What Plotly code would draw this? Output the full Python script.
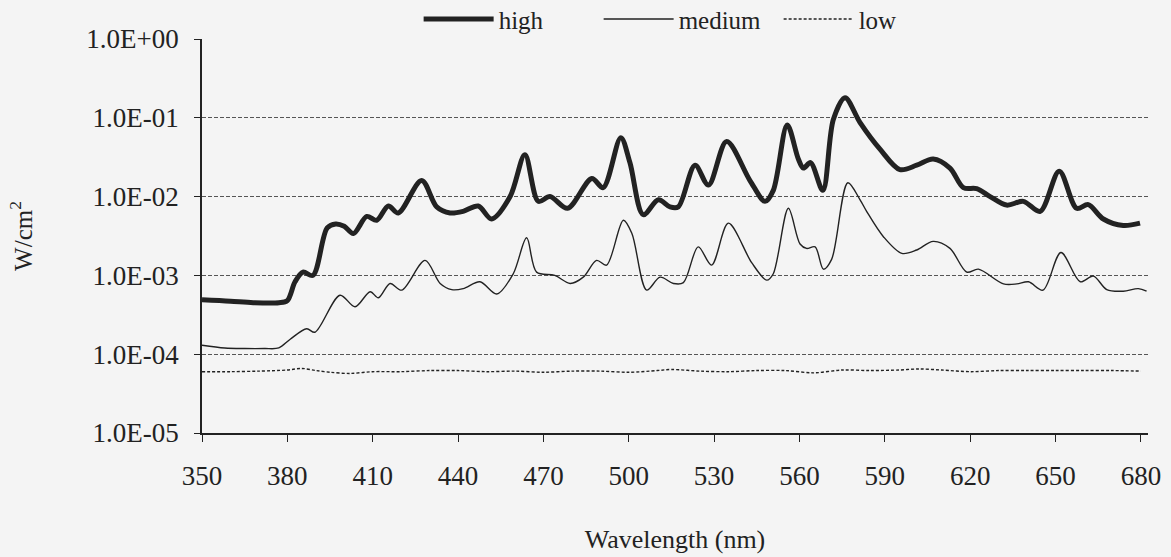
import plotly.graph_objects as go

# ---------------- data ----------------
high_wl = [350, 360, 368, 377, 380, 382.7, 385.5, 389, 394, 397, 400, 403.2, 407.9, 411.4,
           415.5, 419, 427.2, 432.5, 437.2, 441.8, 447.1, 451.8, 458.3, 463.5, 468.2, 472.3,
           478.5, 487, 491, 497.2, 500.4, 505.1, 510.4, 514.5, 517.4, 523.3, 528, 534.4,
           542.6, 547.9, 550.8, 555.7, 559.6, 561.4, 563.9, 568.2, 571.9, 576, 581.3, 588.3,
           595.3, 601.2, 607, 612.9, 617.6, 622.3, 627, 632.8, 638.7, 644.6, 651.3, 657.4,
           661.5, 666.8, 673.8, 679.7]
high_val = [4.9e-4, 4.7e-4, 4.5e-4, 4.5e-4, 4.8e-4, 8.3e-4, 1.1e-3, 1.0e-3, 4.0e-3, 4.5e-3,
            4.2e-3, 3.4e-3, 5.6e-3, 5.0e-3, 7.6e-3, 6.2e-3, 1.6e-2, 7.4e-3, 6.2e-3, 6.5e-3,
            7.6e-3, 5.2e-3, 1.0e-2, 3.4e-2, 8.7e-3, 1.0e-2, 7.1e-3, 1.7e-2, 1.3e-2, 5.6e-2,
            2.7e-2, 5.9e-3, 9.1e-3, 7.4e-3, 7.4e-3, 2.5e-2, 1.4e-2, 5.0e-2, 1.6e-2, 8.7e-3,
            1.2e-2, 8.1e-2, 3.0e-2, 2.3e-2, 2.7e-2, 1.2e-2, 9.5e-2, 1.8e-1, 8.7e-2, 4.0e-2,
            2.2e-2, 2.5e-2, 3.0e-2, 2.3e-2, 1.3e-2, 1.26e-2, 1.0e-2, 7.8e-3, 8.7e-3, 6.5e-3,
            2.1e-2, 7.1e-3, 7.9e-3, 5.2e-3, 4.3e-3, 4.6e-3]

medium_wl = [350, 358, 365, 372, 377, 381, 386.8, 389.7, 398.5, 403.8, 409.1, 412, 416.1,
             420.2, 428.4, 433.7, 437.8, 441.8, 447.7, 453.6, 459.4, 464.1, 467.6, 474,
             479.4, 484, 488.7, 492.2, 498.1, 501.1, 506.3, 511, 515.7, 519.2, 524.4, 529.1,
             535, 543.2, 548.5, 550.8, 556.1, 560.2, 562.5, 565.5, 568.4, 571.3, 577,
             581.3, 583.6, 589.5, 596, 601.2, 607, 612.9, 618.8, 622.9, 631.7, 636.4, 640.5,
             645.6, 651.9, 658.7, 663.3, 668, 673.8, 679.1, 682]
medium_val = [1.3e-4, 1.2e-4, 1.18e-4, 1.18e-4, 1.2e-4, 1.55e-4, 2.1e-4, 1.9e-4, 5.6e-4,
              4.0e-4, 6.2e-4, 5.2e-4, 7.9e-4, 6.5e-4, 1.55e-3, 7.9e-4, 6.6e-4, 6.8e-4,
              8.3e-4, 5.8e-4, 1.05e-3, 3.0e-3, 1.1e-3, 1.0e-3, 7.9e-4, 9.5e-4, 1.55e-3,
              1.35e-3, 5.0e-3, 3.4e-3, 6.5e-4, 9.5e-4, 7.9e-4, 8.1e-4, 2.3e-3, 1.35e-3,
              4.6e-3, 1.45e-3, 8.7e-4, 1.05e-3, 7.1e-3, 2.5e-3, 2.2e-3, 2.3e-3, 1.2e-3,
              1.6e-3, 1.5e-2, 9.1e-3, 6.5e-3, 3.1e-3, 1.9e-3, 2.1e-3, 2.7e-3, 2.2e-3,
              1.1e-3, 1.2e-3, 7.8e-4, 7.8e-4, 8.3e-4, 6.5e-4, 1.95e-3, 8.3e-4, 9.8e-4,
              6.6e-4, 6.3e-4, 6.8e-4, 6.3e-4]

low_wl = [350, 360, 370, 380, 385, 390, 395, 402, 410, 420, 430, 440, 450, 460, 470, 480,
          490, 500, 510, 515, 525, 535, 545, 555, 565, 575, 585, 595, 602, 610, 620, 630,
          640, 650, 660, 670, 680]
low_val = [6.0e-5, 6.0e-5, 6.1e-5, 6.3e-5, 6.6e-5, 6.2e-5, 5.9e-5, 5.7e-5, 6.0e-5, 6.0e-5,
           6.2e-5, 6.2e-5, 6.0e-5, 6.1e-5, 5.9e-5, 6.1e-5, 6.1e-5, 5.9e-5, 6.2e-5, 6.4e-5,
           6.1e-5, 6.0e-5, 6.2e-5, 6.2e-5, 5.8e-5, 6.3e-5, 6.2e-5, 6.3e-5, 6.5e-5, 6.3e-5,
           6.0e-5, 6.2e-5, 6.2e-5, 6.2e-5, 6.2e-5, 6.2e-5, 6.1e-5]

x_ticks = [350, 380, 410, 440, 470, 500, 530, 560, 590, 620, 650, 680]
y_ticks = [1e0, 1e-1, 1e-2, 1e-3, 1e-4, 1e-5]
y_ticktext = ["1.0E+00", "1.0E-01", "1.0E-02", "1.0E-03", "1.0E-04", "1.0E-05"]

# ---------------- figure ----------------
FONT = "Liberation Serif, Times New Roman, serif"
INK = "#222222"
BG = "#f4f4f4"

fig = go.Figure()
fig.add_trace(go.Scatter(x=high_wl, y=high_val, mode="lines", name="high",
                         line=dict(color=INK, width=5, shape="spline", smoothing=0.9)))
fig.add_trace(go.Scatter(x=medium_wl, y=medium_val, mode="lines", name="medium",
                         line=dict(color=INK, width=1.4, shape="spline", smoothing=0.9)))
fig.add_trace(go.Scatter(x=low_wl, y=low_val, mode="lines", name="low",
                         line=dict(color=INK, width=1.4, dash="3px,2px",
                                   shape="spline", smoothing=0.9)))

fig.update_layout(
    width=1171, height=557,
    margin=dict(l=202, r=23, t=39, b=124, autoexpand=False),
    paper_bgcolor=BG, plot_bgcolor=BG,
    font=dict(family=FONT, size=26, color=INK),
    showlegend=True,
    legend=dict(orientation="h", x=0.229, xanchor="left", y=1.05, yanchor="middle",
                bgcolor=BG, font=dict(size=25), itemwidth=70, tracegroupgap=0,
                entrywidth=95),
    shapes=[dict(type="rect", xref="paper", yref="paper", layer="between",
                 x0=0.2, x1=0.77, y0=0.985, y1=1.1,
                 fillcolor=BG, line=dict(width=0))],
)

fig.update_xaxes(
    range=[350, 682.5], tickvals=x_ticks, ticks="outside", ticklen=7,
    tickcolor=INK, tickwidth=1.2, showline=True, linecolor=INK, linewidth=1.5,
    showgrid=False, zeroline=False, tickfont=dict(size=27), ticklabelstandoff=11,
    automargin=False,
    title=dict(text="Wavelength (nm)", font=dict(size=26), standoff=40),
)
fig.update_yaxes(
    type="log", range=[-5, 0], tickvals=y_ticks, ticktext=y_ticktext,
    ticks="outside", ticklen=6, tickcolor=INK, tickwidth=1.2,
    showline=True, linecolor=INK, linewidth=1.5,
    showgrid=True, gridcolor="#555555", gridwidth=1, griddash="4px,2px",
    zeroline=False, tickfont=dict(size=27), ticklabelstandoff=10,
    automargin=False,
    title=dict(text="W/cm<sup>2</sup>", font=dict(size=25), standoff=47),
)

page_fix = ("document.body.style.margin='0';"
            "document.body.style.background='%s';"
            "document.documentElement.style.background='%s';" % (BG, BG))
fig.write_html("out.html", post_script=page_fix, config={"displayModeBar": False})
